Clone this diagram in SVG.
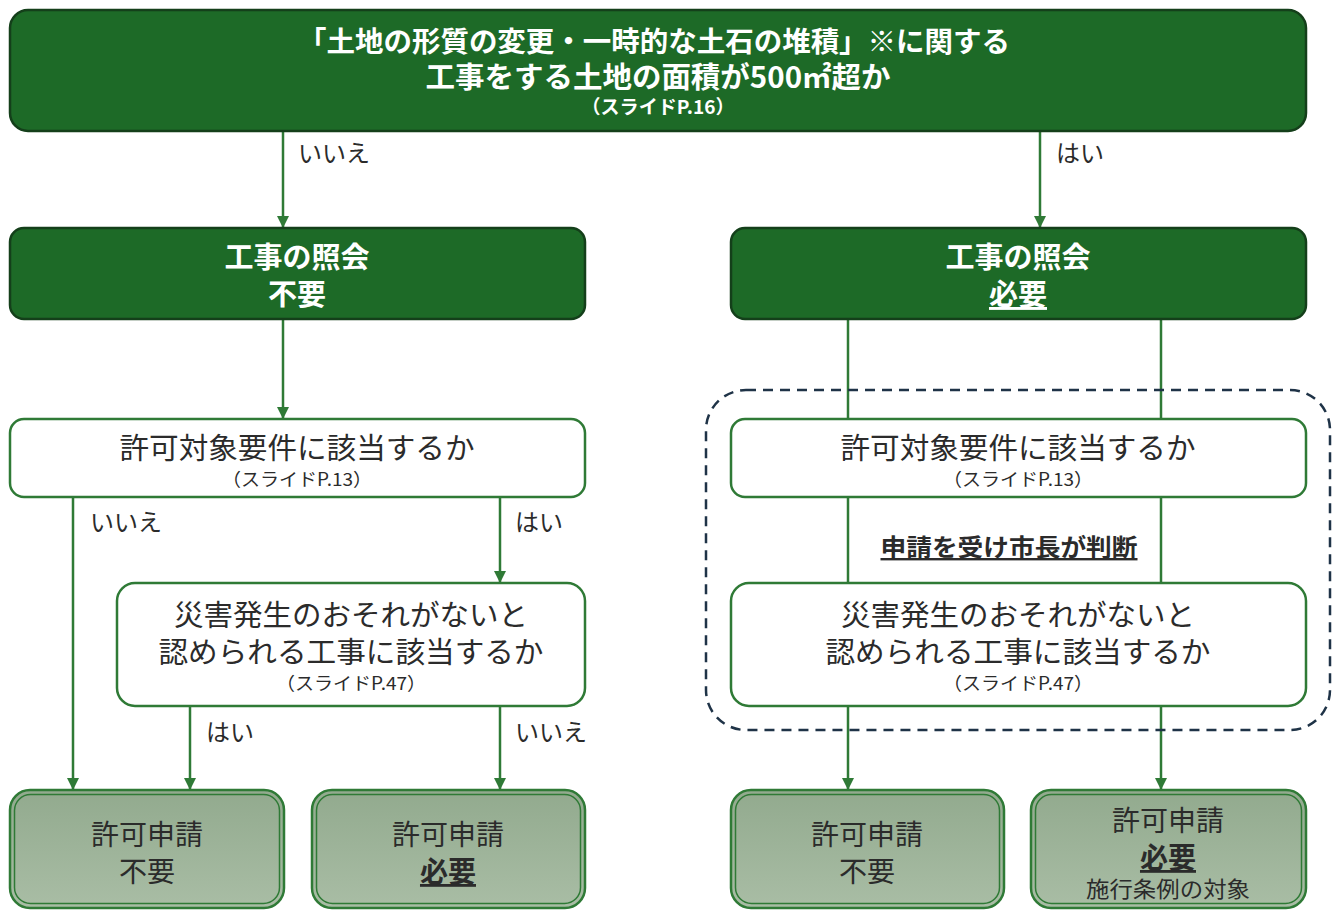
<svg xmlns="http://www.w3.org/2000/svg" width="1336" height="911" viewBox="0 0 1336 911">
<defs>
<style>
.dk{fill:#1d6a27;stroke:#143f1a;stroke-width:2.5}
.wh{fill:#ffffff;stroke:#2f7a36;stroke-width:2.5}
.wt{fill:#ffffff;font-family:"Noto Sans CJK JP","Noto Sans",sans-serif;text-anchor:middle}
.bt{fill:#2b2b2b;font-family:"Noto Sans CJK JP","Noto Sans",sans-serif;text-anchor:middle}
.lb{fill:#2b2b2b;font-family:"Noto Sans CJK JP","Noto Sans",sans-serif;font-size:24px}
.cn{stroke:#2f7a36;stroke-width:2.5;fill:none}
.out{fill:url(#g);stroke:#2f7a36;stroke-width:2.5}
.inn{fill:none;stroke:#2f7a36;stroke-width:1.5}
</style>
<linearGradient id="g" x1="0" y1="0" x2="0" y2="1">
<stop offset="0" stop-color="#92aa8e"/>
<stop offset="1" stop-color="#a9bda5"/>
</linearGradient>
<marker id="a2" markerWidth="12" markerHeight="12" refX="11" refY="6" orient="auto" markerUnits="userSpaceOnUse" viewBox="0 0 12 12">
<path d="M0,0 L12,6 L0,12 Z" fill="#2f7a36"/>
</marker>
</defs>
<rect width="1336" height="911" fill="#ffffff"/>

<g id="connectors">
<line class="cn" x1="283" y1="131" x2="283" y2="227" marker-end="url(#a2)"/>
<line class="cn" x1="1040" y1="131" x2="1040" y2="227" marker-end="url(#a2)"/>
<line class="cn" x1="283" y1="319" x2="283" y2="418" marker-end="url(#a2)"/>
<line class="cn" x1="848" y1="319" x2="848" y2="419"/>
<line class="cn" x1="1161" y1="319" x2="1161" y2="419"/>
<line class="cn" x1="73" y1="497" x2="73" y2="789" marker-end="url(#a2)"/>
<line class="cn" x1="500" y1="497" x2="500" y2="582" marker-end="url(#a2)"/>
<line class="cn" x1="848" y1="497" x2="848" y2="583"/>
<line class="cn" x1="1161" y1="497" x2="1161" y2="583"/>
<line class="cn" x1="190" y1="706" x2="190" y2="789" marker-end="url(#a2)"/>
<line class="cn" x1="500" y1="706" x2="500" y2="789" marker-end="url(#a2)"/>
<line class="cn" x1="848" y1="706" x2="848" y2="789" marker-end="url(#a2)"/>
<line class="cn" x1="1161" y1="706" x2="1161" y2="789" marker-end="url(#a2)"/>
<text class="lb" x="298" y="162">いいえ</text>
<text class="lb" x="1056" y="162">はい</text>
<text class="lb" x="90" y="531">いいえ</text>
<text class="lb" x="515" y="531">はい</text>
<text class="lb" x="206" y="741">はい</text>
<text class="lb" x="515" y="741">いいえ</text>
<text class="bt" x="1009" y="556" font-size="24" font-weight="bold" text-decoration="underline" textLength="257" lengthAdjust="spacingAndGlyphs">申請を受け市長が判断</text>
</g>

<g id="group-dashed">
<rect x="706" y="390" width="624" height="340" rx="40" fill="none" stroke="#1f3347" stroke-width="2.5" stroke-dasharray="10,7"/>
</g>

<g id="top">
<rect class="dk" x="10" y="10" width="1296" height="121" rx="18"/>
<text class="wt" x="654" y="52" font-size="28" font-weight="bold" textLength="712" lengthAdjust="spacingAndGlyphs">「土地の形質の変更・一時的な土石の堆積」※に関する</text>
<text class="wt" x="658" y="88" font-size="29" font-weight="bold" textLength="465" lengthAdjust="spacingAndGlyphs">工事をする土地の面積が500㎡超か</text>
<text class="wt" x="658" y="114" font-size="19" font-weight="bold" textLength="153" lengthAdjust="spacingAndGlyphs">（スライドP.16）</text>
</g>

<g id="ref-left">
<rect class="dk" x="10" y="228" width="575" height="91" rx="14"/>
<text class="wt" x="297" y="268" font-size="29" font-weight="bold">工事の照会</text>
<text class="wt" x="297" y="305" font-size="29" font-weight="bold">不要</text>
</g>
<g id="ref-right">
<rect class="dk" x="731" y="228" width="575" height="91" rx="14"/>
<text class="wt" x="1018" y="268" font-size="29" font-weight="bold">工事の照会</text>
<text class="wt" x="1018" y="305" font-size="29" font-weight="bold" text-decoration="underline">必要</text>
</g>

<g id="req-left">
<rect class="wh" x="10" y="419" width="575" height="78" rx="14"/>
<text class="bt" x="297" y="459" font-size="29" textLength="355" lengthAdjust="spacingAndGlyphs">許可対象要件に該当するか</text>
<text class="bt" x="297" y="486" font-size="18" textLength="150" lengthAdjust="spacingAndGlyphs">（スライドP.13）</text>
</g>
<g id="req-right">
<rect class="wh" x="731" y="419" width="575" height="78" rx="14"/>
<text class="bt" x="1018" y="459" font-size="29" textLength="355" lengthAdjust="spacingAndGlyphs">許可対象要件に該当するか</text>
<text class="bt" x="1018" y="486" font-size="18" textLength="150" lengthAdjust="spacingAndGlyphs">（スライドP.13）</text>
</g>

<g id="dis-left">
<rect class="wh" x="117" y="583" width="468" height="123" rx="18"/>
<text class="bt" x="351" y="626" font-size="29" textLength="354" lengthAdjust="spacingAndGlyphs">災害発生のおそれがないと</text>
<text class="bt" x="351" y="663" font-size="29" textLength="385" lengthAdjust="spacingAndGlyphs">認められる工事に該当するか</text>
<text class="bt" x="351" y="690" font-size="18" textLength="150" lengthAdjust="spacingAndGlyphs">（スライドP.47）</text>
</g>
<g id="dis-right">
<rect class="wh" x="731" y="583" width="575" height="123" rx="18"/>
<text class="bt" x="1018" y="626" font-size="29" textLength="354" lengthAdjust="spacingAndGlyphs">災害発生のおそれがないと</text>
<text class="bt" x="1018" y="663" font-size="29" textLength="385" lengthAdjust="spacingAndGlyphs">認められる工事に該当するか</text>
<text class="bt" x="1018" y="690" font-size="18" textLength="150" lengthAdjust="spacingAndGlyphs">（スライドP.47）</text>
</g>

<g id="out1">
<rect class="out" x="10" y="790" width="274" height="118" rx="20"/>
<rect class="inn" x="14.5" y="794.5" width="265" height="109" rx="16"/>
<text class="bt" x="147" y="845" font-size="28">許可申請</text>
<text class="bt" x="147" y="882" font-size="28">不要</text>
</g>
<g id="out2">
<rect class="out" x="312" y="790" width="273" height="118" rx="20"/>
<rect class="inn" x="316.5" y="794.5" width="264" height="109" rx="16"/>
<text class="bt" x="448" y="845" font-size="28">許可申請</text>
<text class="bt" x="448" y="882" font-size="28" font-weight="bold" text-decoration="underline">必要</text>
</g>
<g id="out3">
<rect class="out" x="731" y="790" width="273" height="118" rx="20"/>
<rect class="inn" x="735.5" y="794.5" width="264" height="109" rx="16"/>
<text class="bt" x="867" y="845" font-size="28">許可申請</text>
<text class="bt" x="867" y="882" font-size="28">不要</text>
</g>
<g id="out4">
<rect class="out" x="1031" y="790" width="275" height="118" rx="20"/>
<rect class="inn" x="1035.5" y="794.5" width="266" height="109" rx="16"/>
<text class="bt" x="1168" y="831" font-size="28">許可申請</text>
<text class="bt" x="1168" y="868" font-size="28" font-weight="bold" text-decoration="underline">必要</text>
<text class="bt" x="1168" y="897" font-size="22" textLength="164" lengthAdjust="spacingAndGlyphs">施行条例の対象</text>
</g>
</svg>
